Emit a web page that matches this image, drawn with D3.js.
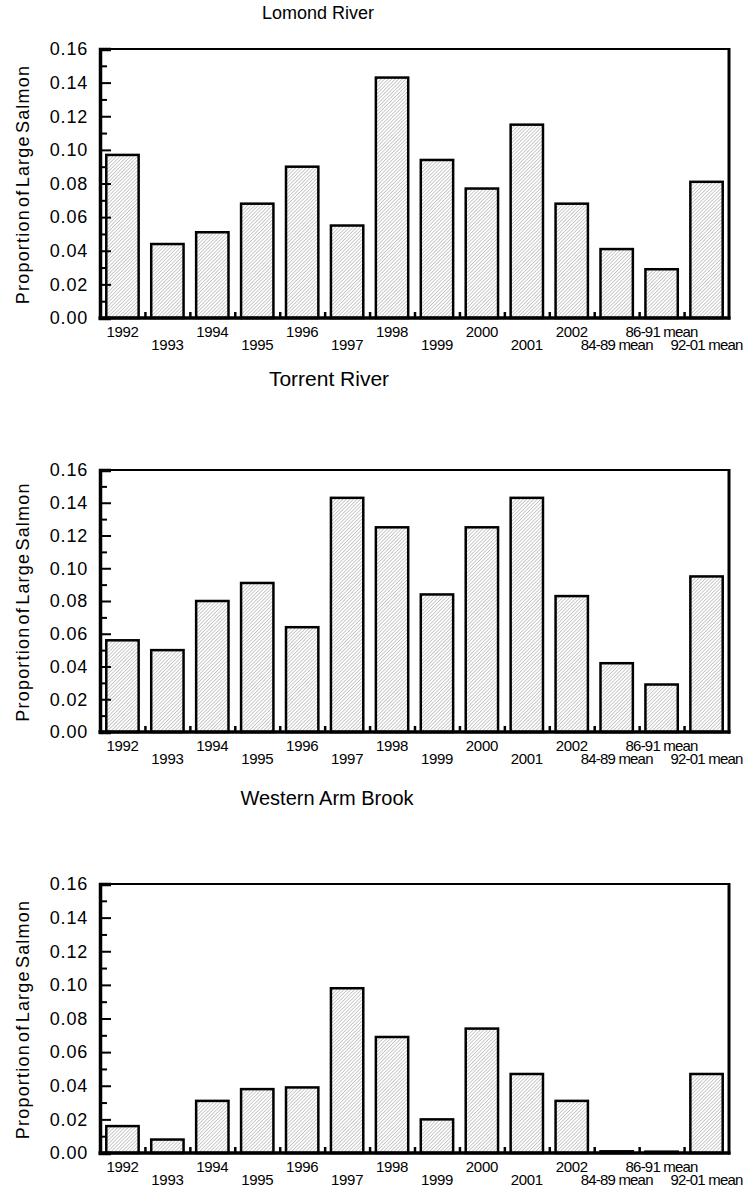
<!DOCTYPE html>
<html>
<head>
<meta charset="utf-8">
<script src="https://cdn.jsdelivr.net/npm/d3@7/dist/d3.min.js"></script>
<style>
  html, body { margin: 0; padding: 0; background: #fff; }
  svg { display: block; }
  text { font-family: Arial, "Liberation Sans", sans-serif; fill: #000; }
</style>
</head>
<body>
<svg id="chart" width="753" height="1195"></svg>
<script>
// Categories along the x axis (years, then long-term means)
const categories = ["1992", "1993", "1994", "1995", "1996", "1997", "1998", "1999",
  "2000", "2001", "2002", "84-89 mean", "86-91 mean", "92-01 mean"];

// Proportion of large salmon per river
const lomondValues  = [0.097, 0.044, 0.051, 0.068, 0.090, 0.055, 0.143, 0.094,
  0.077, 0.115, 0.068, 0.041, 0.029, 0.081];
const torrentValues = [0.056, 0.050, 0.080, 0.091, 0.064, 0.143, 0.125, 0.084,
  0.125, 0.143, 0.083, 0.042, 0.029, 0.095];
const westernValues = [0.016, 0.008, 0.031, 0.038, 0.039, 0.098, 0.069, 0.020,
  0.074, 0.047, 0.031, 0.001, 0.0008, 0.047];

const panelTitles = ["Lomond River", "Torrent River", "Western Arm Brook"];
const yMajorTicks = [0, 0.02, 0.04, 0.06, 0.08, 0.10, 0.12, 0.14, 0.16];
const yMinorTicks = [0.01, 0.03, 0.05, 0.07, 0.09, 0.11, 0.13, 0.15];
const yLabel = "Proportion of Large Salmon";

const panels = [
  { title: panelTitles[0], values: lomondValues,  titleX: 318, titleY: 19,  titleSize: 18, top: 49,  bottom: 318 },
  { title: panelTitles[1], values: torrentValues, titleX: 329, titleY: 386, titleSize: 21, top: 470, bottom: 732 },
  { title: panelTitles[2], values: westernValues, titleX: 327, titleY: 805, titleSize: 20, top: 884, bottom: 1153 }
];

const left = 100, right = 729;
const svg = d3.select("#chart");

// Fine diagonal hatch fill for the bars
const defs = svg.append("defs");
const pat = defs.append("pattern")
  .attr("id", "hatch")
  .attr("patternUnits", "userSpaceOnUse")
  .attr("width", 2.5).attr("height", 2.5)
  .attr("patternTransform", "rotate(45)");
pat.append("rect").attr("width", 2.5).attr("height", 2.5).attr("fill", "#fff");
pat.append("line").attr("x1", 0).attr("y1", 0).attr("x2", 0).attr("y2", 2.5)
  .attr("stroke", "#8c8c8c").attr("stroke-width", 0.9);

const x = d3.scaleBand().domain(categories).range([left, right]).padding(0);
const boundary = d3.scaleLinear().domain([0, categories.length]).range([left, right]);
const barW = x.step() * 0.72;

panels.forEach(p => {
  const g = svg.append("g");
  const y = d3.scaleLinear().domain([0, 0.16]).range([p.bottom, p.top]);

  // Title
  g.append("text")
    .attr("x", p.titleX)
    .attr("y", p.titleY)
    .attr("text-anchor", "middle")
    .style("font-size", p.titleSize + "px")
    .text(p.title);

  // Bars
  g.selectAll("rect.bar")
    .data(p.values)
    .join("rect")
    .attr("class", "bar")
    .attr("x", (d, i) => x(categories[i]) + (x.step() - barW) / 2)
    .attr("width", barW)
    .attr("y", d => y(d))
    .attr("height", d => y(0) - y(d))
    .attr("fill", "url(#hatch)")
    .attr("stroke", "#000")
    .attr("stroke-width", 2.5);

  // Frame: top and right edges
  g.append("line").attr("x1", left).attr("x2", right).attr("y1", p.top).attr("y2", p.top)
    .attr("stroke", "#000").attr("stroke-width", 2);
  g.append("line").attr("x1", right).attr("x2", right).attr("y1", p.top - 1).attr("y2", p.bottom + 1.5)
    .attr("stroke", "#000").attr("stroke-width", 3);

  // Left axis: major ticks with labels, minor ticks without
  const yAxis = g.append("g").attr("transform", `translate(${left},0)`)
    .call(d3.axisLeft(y).tickValues(yMajorTicks).tickSize(-11).tickPadding(12)
      .tickFormat(d3.format(".2f")));
  yAxis.select(".domain").attr("stroke-width", 3.5);
  yAxis.selectAll(".tick line").attr("stroke-width", 2);
  yAxis.selectAll(".tick text")
    .style("font-size", "18px")
    .style("letter-spacing", "0.8px")
    .style("font-family", "Arial, 'Liberation Sans', sans-serif");

  const yMinor = g.append("g").attr("transform", `translate(${left},0)`)
    .call(d3.axisLeft(y).tickValues(yMinorTicks).tickSize(-7).tickFormat(""));
  yMinor.select(".domain").remove();
  yMinor.selectAll(".tick line").attr("stroke-width", 2);

  // Bottom axis: short separators between categories
  const xSep = g.append("g").attr("transform", `translate(0,${p.bottom})`)
    .call(d3.axisBottom(boundary).tickValues(d3.range(1, categories.length)).tickSize(-6).tickFormat(""));
  xSep.select(".domain").attr("stroke-width", 3.5)
    .attr("d", `M${left - 1.5},0H${right + 1.5}`);
  xSep.selectAll(".tick line").attr("stroke-width", 2.5);

  // Category labels, alternating on two rows
  const xAxis = g.append("g").attr("transform", `translate(0,${p.bottom})`)
    .call(d3.axisBottom(x).tickSize(0).tickPadding(0));
  xAxis.select(".domain").remove();
  xAxis.selectAll(".tick text")
    .style("font-size", "15px")
    .style("letter-spacing", d => (d.length > 4 ? "-0.8px" : "-0.3px"))
    .style("font-family", "Arial, 'Liberation Sans', sans-serif")
    .attr("dy", null)
    .attr("y", (d, i) => (i % 2 === 0 ? 19 : 32));

  // Y axis title
  g.append("text")
    .attr("transform", `translate(29,${(p.top + p.bottom) / 2 + 1}) rotate(-90)`)
    .attr("text-anchor", "middle")
    .style("font-size", "18px")
    .style("letter-spacing", "1.2px")
    .style("word-spacing", "-4px")
    .text(yLabel);
});
</script>
</body>
</html>
